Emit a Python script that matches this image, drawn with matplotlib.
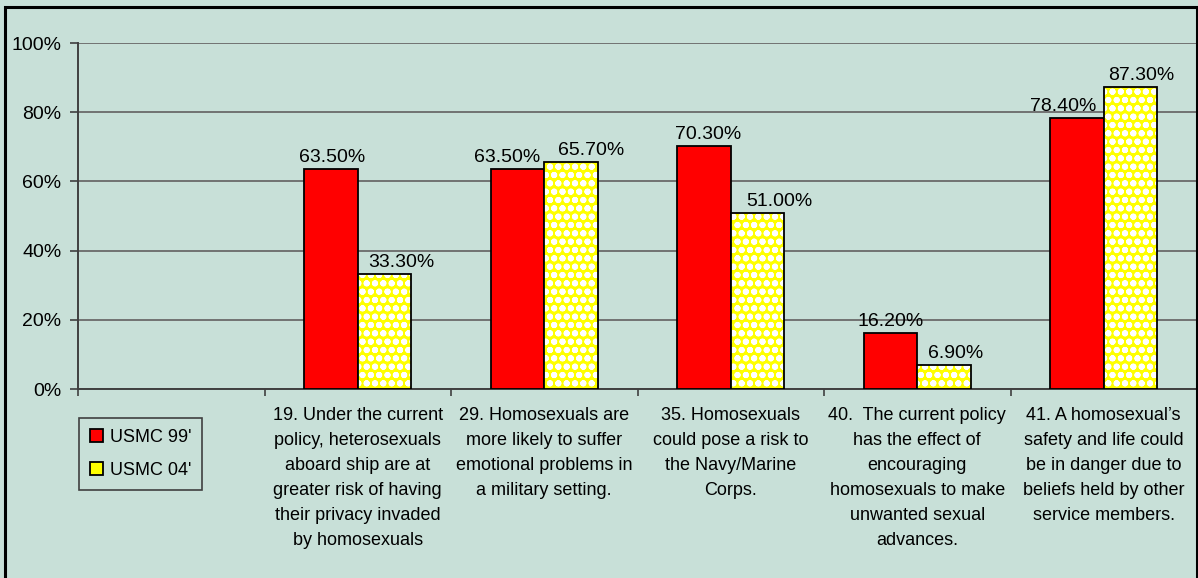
import matplotlib
matplotlib.use("Agg")
import matplotlib.pyplot as plt
from matplotlib.patches import Rectangle
import numpy as np

plt.rcParams['font.family'] = ['Liberation Sans', 'DejaVu Sans']
plt.rcParams['hatch.linewidth'] = 2.0

categories = [
    "",
    "19. Under the current\npolicy, heterosexuals\naboard ship are at\ngreater risk of having\ntheir privacy invaded\nby homosexuals",
    "29. Homosexuals are\nmore likely to suffer\nemotional problems in\na military setting.",
    "35. Homosexuals\ncould pose a risk to\nthe Navy/Marine\nCorps.",
    "40.  The current policy\nhas the effect of\nencouraging\nhomosexuals to make\nunwanted sexual\nadvances.",
    "41. A homosexual\u2019s\nsafety and life could\nbe in danger due to\nbeliefs held by other\nservice members.",
]
usmc_99 = [None, 63.5, 63.5, 70.3, 16.2, 78.4]
usmc_04 = [None, 33.3, 65.7, 51.0, 6.9, 87.3]
y_ticks = [0, 20, 40, 60, 80, 100]

bg = "#C8E0D8"
W, H = 1198, 578

fig = plt.figure(figsize=(W / 100, H / 100), dpi=100)
fig.patch.set_facecolor(bg)
# chart border
fig.add_artist(Rectangle((5 / W, -0.01), (1197 - 5) / W, (H - 7) / H + 0.01,
                         transform=fig.transFigure, fill=False,
                         edgecolor="black", linewidth=2.2, zorder=10))

ax = fig.add_axes([78 / W, (H - 389) / H, (1197 - 78) / W, (389 - 43) / H])
ax.set_facecolor(bg)

x = np.arange(len(categories))
bw = 0.287

idx = [i for i in x if usmc_99[i] is not None]
v99 = [usmc_99[i] for i in idx]
v04 = [usmc_04[i] for i in idx]
x99 = np.array(idx) - bw / 2
x04 = np.array(idx) + bw / 2

ax.bar(x99, v99, bw, color="#FF0000", edgecolor="black", linewidth=1.3, zorder=3)
ax.bar(x04, v04, bw, color="#FFFF00", edgecolor="white", hatch="oo",
       linewidth=0, zorder=3)
ax.bar(x04, v04, bw, fill=False, edgecolor="black", linewidth=1.3, zorder=4)

# value labels, shifted sideways (pixels) the way Excel placed them
shift_99 = [1, -10, 4, 0, -14]
shift_04 = [17, 20, 22, 12, 11]
for xp, v, dx in zip(x99, v99, shift_99):
    ax.annotate(f"{v:.2f}%", (xp, v), xytext=(dx, 3),
                textcoords="offset pixels", ha="center", va="bottom",
                fontsize=14, color="black", zorder=5)
for xp, v, dx in zip(x04, v04, shift_04):
    ax.annotate(f"{v:.2f}%", (xp, v), xytext=(dx, 3),
                textcoords="offset pixels", ha="center", va="bottom",
                fontsize=14, color="black", zorder=5)

ax.set_xlim(-0.5, len(categories) - 0.5)
ax.set_ylim(0, 100)
ax.set_yticks(y_ticks)
ax.set_yticklabels([f"{t}%" for t in y_ticks], fontsize=14)
ax.yaxis.grid(True, color="#6a6a6a", linewidth=1.3, zorder=0)
ax.set_axisbelow(True)

ax.set_xticks(x)
ax.set_xticklabels(categories, fontsize=13, linespacing=1.62, ha="center", va="top")
ax.set_xticks(np.arange(len(categories) + 1) - 0.5, minor=True)
ax.tick_params(axis="x", which="major", length=0, pad=13)
ax.tick_params(axis="x", which="minor", length=5, color="#404040", width=1.2)
ax.tick_params(axis="y", length=6, color="#404040", width=1.2, pad=6)

for s in ["top", "right"]:
    ax.spines[s].set_visible(False)
for s in ["left", "bottom"]:
    ax.spines[s].set_color("#404040")
    ax.spines[s].set_linewidth(1.4)

handles = [Rectangle((0, 0), 1, 1, facecolor="#FF0000", edgecolor="black", linewidth=1.3),
           Rectangle((0, 0), 1, 1, facecolor="#FFFF00", edgecolor="black", linewidth=1.3)]
leg = fig.legend(handles, ["USMC 99'", "USMC 04'"], loc="upper left",
                 bbox_to_anchor=(79 / W, 1 - 418 / H), fontsize=13,
                 frameon=True, fancybox=False, edgecolor="#404040",
                 facecolor=bg, framealpha=1, handlelength=0.75, handleheight=0.75,
                 handletextpad=0.35, borderpad=0.6, labelspacing=0.9,
                 borderaxespad=0)
leg.get_frame().set_linewidth(1.2)

fig.savefig("out.png", dpi=100, facecolor=bg)
